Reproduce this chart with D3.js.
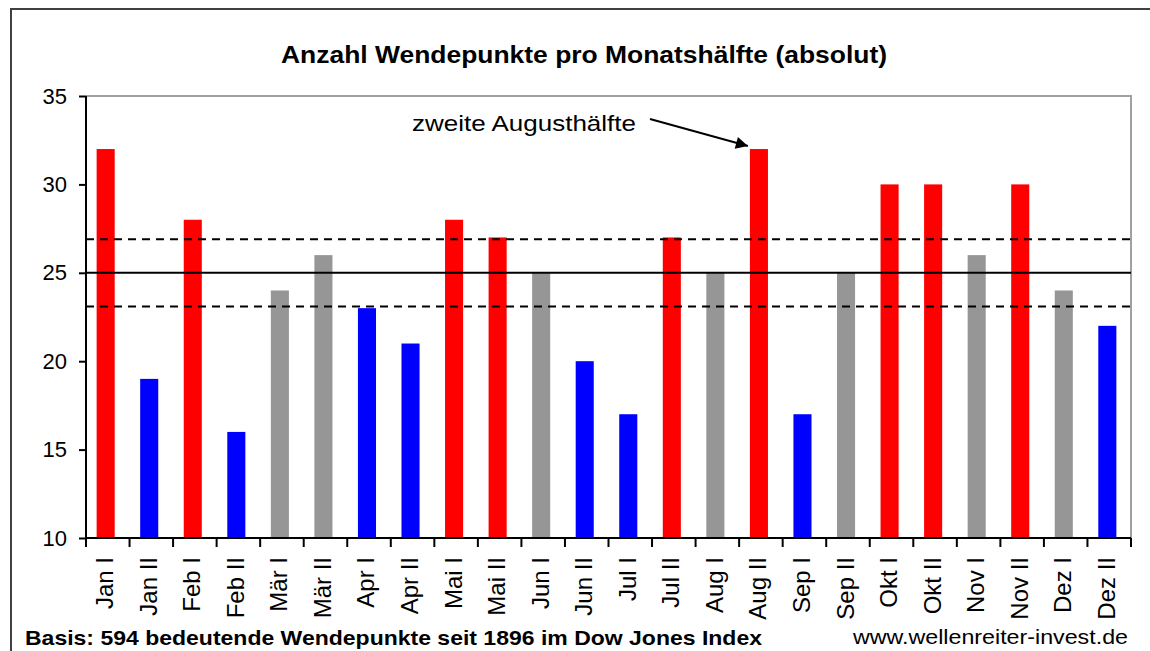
<!DOCTYPE html>
<html>
<head>
<meta charset="utf-8">
<script src="https://cdn.jsdelivr.net/npm/d3@7"></script>
<style>
  body { margin: 0; background: #fff; }
  text { font-family: "Liberation Sans", Arial, sans-serif; }
</style>
</head>
<body>
<div id="vis"></div>
<script>
const categories = [
    "Jan I", "Jan II", "Feb I", "Feb II", "Mär I", "Mär II",
    "Apr I", "Apr II", "Mai I", "Mai II", "Jun I", "Jun II",
    "Jul I", "Jul II", "Aug I", "Aug II", "Sep I", "Sep II",
    "Okt I", "Okt II", "Nov I", "Nov II", "Dez I", "Dez II"
];
const values = [32, 19, 28, 16, 24, 26, 23, 21, 28, 27, 25, 20, 17, 27, 25, 32, 17, 25, 30, 30, 26, 30, 24, 22];
// r = over, b = under, g = inside band
const groups = ["r", "b", "r", "b", "g", "g", "b", "b", "r", "r", "g", "b", "b", "r", "g", "r", "b", "g", "r", "r", "g", "r", "g", "b"];
const yTicks = [10, 15, 20, 25, 30, 35];
const meanLine = 25;
const bandLines = [26.9, 23.1];

const color = { r: "#FF0000", b: "#0000FF", g: "#969696" };

const W = 1150, H = 651;
const margin = { top: 96, right: 19, bottom: 113, left: 86 },
    width = W - margin.left - margin.right,
    height = H - margin.top - margin.bottom;

const root = d3.select("#vis").append("svg")
    .attr("width", W)
    .attr("height", H);

root.append("rect")
    .attr("width", W).attr("height", H)
    .attr("fill", "#fff");

// outer frame
root.append("rect")
    .attr("x", 11).attr("y", 9)
    .attr("width", W + 20).attr("height", H + 20)
    .attr("fill", "none")
    .attr("stroke", "#404040")
    .attr("stroke-width", 2);

root.append("text")
    .attr("x", 584).attr("y", 63)
    .attr("text-anchor", "middle")
    .attr("textLength", 606)
    .attr("lengthAdjust", "spacingAndGlyphs")
    .style("font-size", "23px")
    .style("font-weight", "bold")
    .text("Anzahl Wendepunkte pro Monatshälfte (absolut)");

const svg = root.append("g")
    .attr("transform", `translate(${margin.left}, ${margin.top})`);

const x = d3.scaleBand()
    .domain(categories)
    .range([0, width])
    .paddingInner(0.585)
    .paddingOuter(0.29);

const y = d3.scaleLinear()
    .domain([10, 35])
    .range([height, 0]);

// plot frame (top / right)
svg.append("path")
    .attr("d", `M0,0H${width}V${height}`)
    .attr("fill", "none")
    .attr("stroke", "#a0a0a0")
    .attr("stroke-width", 2);

svg.selectAll("rect.bar")
    .data(values)
    .join("rect")
    .attr("class", "bar")
    .attr("x", (d, i) => x(categories[i]) - 2)
    .attr("y", d => y(d))
    .attr("width", x.bandwidth())
    .attr("height", d => height - y(d))
    .attr("fill", (d, i) => color[groups[i]]);

svg.append("line")
    .attr("x1", 0).attr("x2", width)
    .attr("y1", y(meanLine)).attr("y2", y(meanLine))
    .attr("stroke", "#000")
    .attr("stroke-width", 2);

svg.selectAll("line.band")
    .data(bandLines)
    .join("line")
    .attr("class", "band")
    .attr("x1", 0).attr("x2", width)
    .attr("y1", d => y(d)).attr("y2", d => y(d))
    .attr("stroke", "#000")
    .attr("stroke-width", 2)
    .attr("stroke-dasharray", "8,6");

// y axis
const yAxis = svg.append("g")
    .call(d3.axisLeft(y).tickValues(yTicks).tickSize(7).tickPadding(12));
yAxis.select(".domain").attr("stroke-width", 2).attr("d", `M0,0V${height}`);
yAxis.selectAll(".tick line").attr("stroke-width", 2);
yAxis.selectAll(".tick text")
    .style("font-size", "22px")
    .attr("fill", "#000")
    .attr("font-family", null);

// x axis: ticks sit between categories
const xg = svg.append("g")
    .attr("transform", `translate(0, ${height})`);
xg.append("line")
    .attr("x1", 0).attr("x2", width)
    .attr("stroke", "#000")
    .attr("stroke-width", 2);
const bounds = d3.range(categories.length + 1).map(i => i * (width / categories.length));
xg.selectAll("line.tk")
    .data(bounds)
    .join("line")
    .attr("class", "tk")
    .attr("x1", d => d).attr("x2", d => d)
    .attr("y1", 0).attr("y2", 9)
    .attr("stroke", "#000")
    .attr("stroke-width", 2);

xg.selectAll("text.lab")
    .data(categories)
    .join("text")
    .attr("class", "lab")
    .attr("transform", d => `translate(${x(d) + x.bandwidth() / 2 + 5.5}, 19) rotate(-90)`)
    .attr("text-anchor", "end")
    .style("font-size", "24px")
    .text(d => d);

root.append("text")
    .attr("x", 25).attr("y", 645)
    .attr("textLength", 737)
    .attr("lengthAdjust", "spacingAndGlyphs")
    .style("font-size", "21px")
    .style("font-weight", "bold")
    .text("Basis: 594 bedeutende Wendepunkte seit 1896 im Dow Jones Index");

root.append("text")
    .attr("x", 853).attr("y", 644)
    .attr("textLength", 275)
    .attr("lengthAdjust", "spacingAndGlyphs")
    .style("font-size", "21px")
    .text("www.wellenreiter-invest.de");

// annotation
root.append("defs").append("marker")
    .attr("id", "arrow")
    .attr("viewBox", "0 0 10 10")
    .attr("refX", 10).attr("refY", 5)
    .attr("markerWidth", 9).attr("markerHeight", 6)
    .attr("markerUnits", "strokeWidth")
    .attr("orient", "auto")
    .append("path")
    .attr("d", "M0,0L10,5L0,10z")
    .attr("fill", "#000");

const augIdx = categories.indexOf("Aug II");
const ax = margin.left + x(categories[augIdx]) - 4;
const ay = margin.top + y(values[augIdx]) - 3;
root.append("line")
    .attr("x1", 650).attr("y1", 119)
    .attr("x2", ax).attr("y2", ay)
    .attr("stroke", "#000")
    .attr("stroke-width", 2)
    .attr("marker-end", "url(#arrow)");

root.append("text")
    .attr("x", 412).attr("y", 131)
    .attr("textLength", 224)
    .attr("lengthAdjust", "spacingAndGlyphs")
    .style("font-size", "22px")
    .text("zweite Augusthälfte");
</script>
</body>
</html>
